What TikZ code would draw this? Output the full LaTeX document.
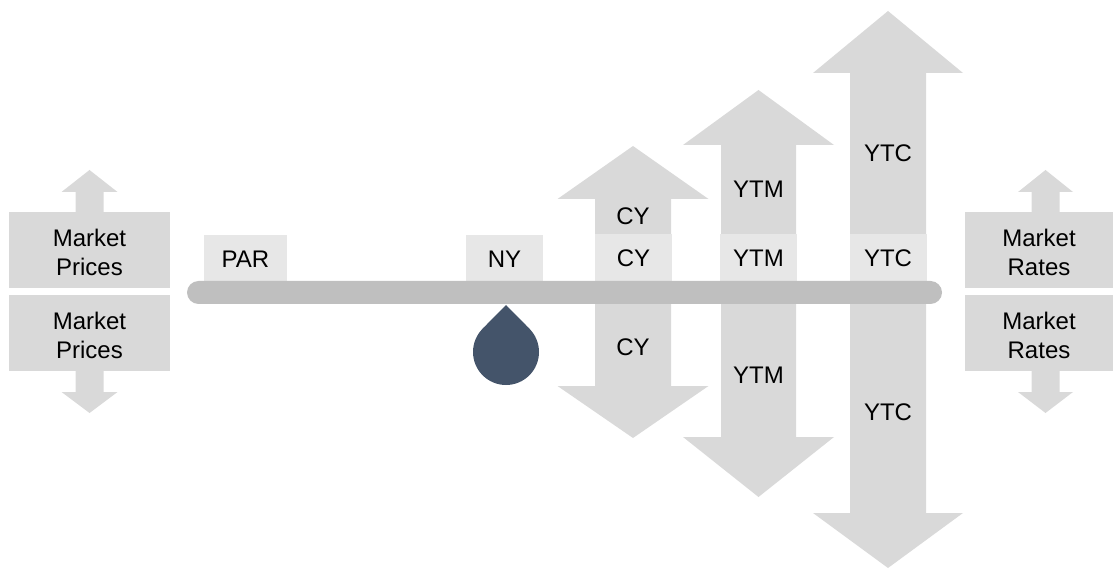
\documentclass[tikz,border=0pt]{standalone}
\usepackage{fontspec}
\setmainfont{Liberation Sans}
\definecolor{arrowc}{HTML}{D9D9D9}
\definecolor{lightc}{HTML}{E7E7E7}
\definecolor{barc}{HTML}{BFBFBF}
\definecolor{dropc}{HTML}{44546A}
\begin{document}
\begin{tikzpicture}[x=1pt,y=-1pt,
  every node/.style={font=\fontsize{24}{29}\selectfont, text=black, inner sep=0pt},
  mbox/.style={fill=arrowc, minimum height=76},
  lbox/.style={fill=lightc, minimum height=47},
  mtext/.style={align=center}]
\useasboundingbox (0,0) rectangle (1114,569);

% small arrows left
\fill[arrowc] (75.5,212) -- (75.5,192) -- (61.5,192) -- (89.5,170) -- (117.5,192) -- (103.5,192) -- (103.5,212) -- cycle;
\fill[arrowc] (75.5,371) -- (75.5,392) -- (61.5,392) -- (89.5,413) -- (117.5,392) -- (103.5,392) -- (103.5,371) -- cycle;
% small arrows right
\fill[arrowc] (1031.5,212) -- (1031.5,192) -- (1018,192) -- (1045.5,170) -- (1073,192) -- (1059.5,192) -- (1059.5,212) -- cycle;
\fill[arrowc] (1031.5,371) -- (1031.5,392) -- (1018,392) -- (1045.5,413) -- (1073,392) -- (1059.5,392) -- (1059.5,371) -- cycle;

% market boxes
\node[mbox, minimum width=161] (mp1) at (89.5,250) {};
\node[mtext] (mp1t) at (89.5,252) {Market\\Prices};
\node[mbox, minimum width=161] (mp2) at (89.5,333) {};
\node[mtext] (mp2t) at (89.5,335) {Market\\Prices};
\node[mbox, minimum width=148] (mr1) at (1039,250) {};
\node[mtext] (mr1t) at (1039,252) {Market\\Rates};
\node[mbox, minimum width=148] (mr2) at (1039,333) {};
\node[mtext] (mr2t) at (1039,335) {Market\\Rates};

% CY arrows
\fill[arrowc] (595,236) -- (595,199) -- (557.5,199) -- (633,146) -- (708.5,199) -- (671,199) -- (671,236) -- cycle;
\fill[arrowc] (595,304) -- (595,386) -- (557.5,386) -- (633,438) -- (708.5,386) -- (671,386) -- (671,304) -- cycle;
\node (cyu) at (633,216) {CY};
\node (cyd) at (633,347) {CY};

% YTM arrows
\fill[arrowc] (721,236) -- (721,145) -- (683,145) -- (758.5,90) -- (834,145) -- (796,145) -- (796,236) -- cycle;
\fill[arrowc] (721,304) -- (721,437) -- (683,437) -- (758.5,497) -- (834,437) -- (796,437) -- (796,304) -- cycle;
\node (ytmu) at (758.5,189) {YTM};
\node (ytmd) at (758.5,375) {YTM};

% YTC arrows
\fill[arrowc] (850,236) -- (850,73) -- (813,73) -- (888,11) -- (963,73) -- (926,73) -- (926,236) -- cycle;
\fill[arrowc] (850,304) -- (850,513) -- (813,513) -- (888,568) -- (963,513) -- (926,513) -- (926,304) -- cycle;
\node (ytcu) at (888,153) {YTC};
\node (ytcd) at (888,412) {YTC};

% small light boxes on the bar
\node[lbox, minimum width=83, minimum height=46] (par) at (245.5,258) {};
\node (part) at (245.5,259) {PAR};
\node[lbox, minimum width=77, minimum height=46] (ny) at (504.5,258) {};
\node (nyt) at (504.5,259) {NY};
\node[lbox, minimum width=77] (cyb) at (633.5,257.5) {};
\node (cybt) at (633.5,258.5) {CY};
\node[lbox, minimum width=77] (ytmb) at (758.5,257.5) {};
\node (ytmbt) at (758.5,258.5) {YTM};
\node[lbox, minimum width=77] (ytcb) at (888,257.5) {};
\node (ytcbt) at (888,258.5) {YTC};

% bar
\fill[barc, rounded corners=11.5] (187,281) rectangle (942,304);

% drop (fulcrum)
\fill[dropc] (506,352) circle[radius=33];
\fill[dropc] (506,305) -- (482.5,328.8) -- (506,352) -- (529.5,328.8) -- cycle;
\end{tikzpicture}
\end{document}
